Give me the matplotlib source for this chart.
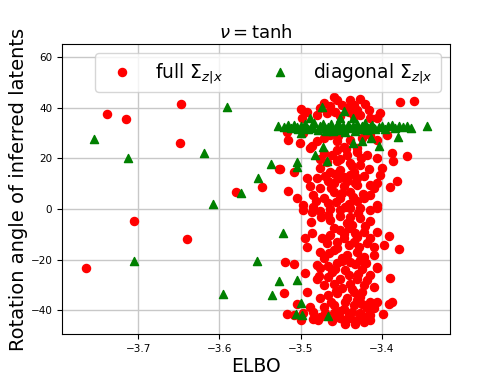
import matplotlib
matplotlib.use('Agg')
import matplotlib.pyplot as plt
import numpy as np

# full covariance runs: (ELBO, rotation angle)
full_elbo = [
    -3.7645, -3.739, -3.715, -3.648, -3.649, -3.705, -3.640, -3.580, -3.548, -3.527,
    # top of cluster
    -3.4595, -3.439, -3.4266, -3.4718, -3.4554, -3.4492, -3.4348, -3.4636, -3.4164, -3.441,
    -3.3773, -3.360, -3.4998, -3.4924, -3.4759, -3.4677, -3.4801, -3.4266, -3.4143, -3.4061,
    -3.4028, -3.4513, -3.4986, -3.4348, -3.4431, -3.4575, -3.4307, -3.4205,
    -3.517, -3.515, -3.5006, -3.4862, -3.4718, -3.4554, -3.4472, -3.439, -3.4246, -3.4143,
    -3.4061, -3.3937, -3.4636, -3.4965, -3.4801, -3.4307,
    # upper middle
    -3.4883, -3.4718, -3.4554, -3.4431, -3.4307, -3.4184, -3.4061, -3.3876, -3.3863, -3.3691,
    -3.5253, -3.508, -3.3999, -3.4164, -3.4554, -3.439, -3.4266, -3.4759, -3.4636, -3.4513,
    -3.4348, -3.4801, -3.4924, -3.4883, -3.4759, -3.4657, -3.4533, -3.4431, -3.4307, -3.4225,
    -3.4143, -3.4061, -3.402, -3.3814, -3.3905, -3.515, -3.5047, -3.4965, -3.4842, -3.4718,
    -3.4595, -3.4513, -3.439, -3.4307, -3.4225, -3.4143, -3.4102, -3.4061, -3.4842, -3.4657,
    -3.4451, -3.4307, -3.4472, -3.4595, -3.4698, -3.439,
    # lower middle
    -3.4965, -3.4862, -3.4759, -3.4636, -3.4513, -3.439, -3.4266, -3.4143, -3.4061, -3.439,
    -3.4266, -3.4143, -3.4636, -3.4431, -3.4862, -3.4944, -3.4739, -3.4636, -3.4513, -3.441,
    -3.4328, -3.4225, -3.4143, -3.4061, -3.3917, -3.4677, -3.4554, -3.4472, -3.4348, -3.4184,
    -3.4102, -3.3979, -3.3794, -3.4924, -3.4759, -3.4595, -3.4431, -3.4307, -3.4225, -3.4102,
    -3.5191, -3.5088, -3.4801, -3.4657, -3.4554, -3.439, -3.4266, -3.4061, -3.4718, -3.4492,
    # bottom
    -3.4944, -3.4759, -3.4616, -3.4451, -3.4246, -3.4061, -3.4184, -3.4143, -3.3896, -3.5203,
    -3.4801, -3.4718, -3.4595, -3.4492, -3.439, -3.4307, -3.4225, -3.4102, -3.4759, -3.4657,
    -3.4554, -3.4431, -3.4348, -3.4266, -3.4143, -3.4061, -3.3917, -3.3876, -3.5047, -3.4883,
    -3.4718, -3.4595, -3.4472, -3.4348, -3.4246, -3.517, -3.5088, -3.4965, -3.4759, -3.4595,
    -3.4513, -3.441, -3.4266, -3.4143, -3.3987, -3.4451, -3.4225, -3.4143, -3.439, -3.4554,
    -3.4842, -3.4184, -3.4102,
    # dense core
    -3.468, -3.452, -3.437, -3.458, -3.446, -3.433, -3.462, -3.449, -3.436, -3.457,
    -3.441, -3.429, -3.466, -3.452, -3.437, -3.459, -3.446, -3.431, -3.469, -3.441,
    -3.455, -3.428, -3.465, -3.449, -3.433, -3.458, -3.441, -3.429, -3.466, -3.451,
    -3.437, -3.457, -3.445, -3.431, -3.463, -3.452, -3.437, -3.428, -3.447, -3.461,
    -3.433, -3.419, -3.479, -3.470, -3.485, -3.424, -3.419, -3.421, -3.423, -3.426,
    -3.461, -3.476, -3.481, -3.487, -3.478, -3.492, -3.500, -3.475, -3.444, -3.454,
]
full_angle = [
    -23.5, 37.6, 35.6, 41.5, 26.0, -4.8, -11.9, 6.9, 8.8, 15.7,
    44.1, 43.2, 43.6, 41.8, 43.2, 41.2, 41.2, 40.9, 39.2, 38.5,
    42.5, 42.8, 39.6, 38.5, 39.9, 37.9, 37.0, 37.2, 35.9, 35.9,
    37.9, 36.6, 35.9, 36.6, 39.9, 38.5, 39.2, 41.4,
    30.4, 27.3, 26.0, 24.9, 28.0, 26.7, 24.7, 27.3, 28.0, 29.3,
    27.3, 29.3, 29.3, 30.0, 26.7, 24.0,
    24.3, 22.1, 23.4, 21.4, 22.7, 21.4, 20.1, 22.1, 18.8, 21.1,
    15.9, 14.5, 16.4, 15.9, 18.8, 18.1, 17.5, 16.2, 14.8, 15.5,
    14.8, 12.2, 12.2, 8.9, 8.2, 10.9, 12.2, 10.9, 12.2, 12.9,
    9.6, 10.2, 13.5, 10.9, 8.5, 7.2, 4.3, 1.6, 5.6, 4.3,
    6.9, 4.3, 6.9, 3.0, 4.3, 5.6, 8.2, 1.6, 0.9, 2.3,
    0.9, 9.6, 8.9, 10.2, 12.9, 13.5,
    -0.4, -1.0, -0.8, 0.0, -0.4, 0.3, 0.5, -0.4, 0.3, -3.0,
    -3.7, -4.7, -4.3, -5.7, -9.6, -11.6, -11.6, -10.3, -8.3, -7.6,
    -9.6, -9.0, -11.6, -9.0, -10.5, -13.6, -12.9, -11.6, -12.9, -13.6,
    -14.9, -14.2, -15.8, -14.9, -16.9, -16.2, -18.2, -16.9, -18.9, -18.2,
    -21.1, -21.6, -22.2, -22.4, -21.5, -20.8, -20.2, -22.8, -19.5, -19.5,
    -25.5, -23.5, -25.1, -24.2, -23.8, -23.5, -28.1, -26.2, -27.2, -33.4,
    -27.5, -30.1, -29.5, -31.4, -29.5, -27.5, -30.1, -30.8, -35.4, -34.1,
    -33.4, -35.4, -32.8, -34.7, -36.7, -36.7, -37.4, -36.7, -37.4, -38.7,
    -38.7, -38.0, -39.4, -38.0, -37.4, -41.7, -42.0, -41.3, -42.7, -41.3,
    -43.3, -42.0, -41.3, -42.0, -41.7, -45.3, -44.6, -44.0, -43.3, -42.0,
    -40.7, -39.1, -39.1,
    18.5, 19.6, 16.8, 13.8, 12.6, 10.4, 8.1, 6.2, 4.6, 2.9,
    1.8, -1.6, -2.2, -2.8, -6.4, -7.4, -9.8, -11.2, -12.0, -14.4,
    -15.6, -15.0, -17.3, -20.4, -21.9, -23.6, -26.0, -25.6, -27.0, -27.8,
    -31.8, -32.3, -36.8, -36.2, -36.6, -40.2, -40.6, -43.1, -44.0, -44.5,
    -45.5, -42.9, -44.0, -41.0, -43.5, -33.0, -21.5, -6.8, 6.0, 20.3,
    21.5, 19.8, 3.0, -5.0, -26.5, -33.0, -44.0, -3.0, 23.8, 29.0,
]

# diagonal covariance runs
diag_elbo = [
    -3.754, -3.713, -3.591, -3.619, -3.536, -3.552, -3.573, -3.608, -3.705, -3.554,
    -3.596, -3.535, -3.527, -3.522, -3.504, -3.500, -3.506, -3.498, -3.466,
    -3.474, -3.446, -3.504, -3.504, -3.482, -3.472, -3.468, -3.435, -3.424, -3.413,
    -3.403, -3.380, -3.488, -3.451, -3.435, -3.500,
    # band near 32 degrees
    -3.528, -3.521, -3.516, -3.512, -3.508, -3.503, -3.499, -3.495, -3.491, -3.487,
    -3.483, -3.479, -3.476, -3.472, -3.469, -3.466, -3.463, -3.460, -3.457, -3.454,
    -3.451, -3.448, -3.445, -3.442, -3.439, -3.436, -3.433, -3.430, -3.427, -3.424,
    -3.421, -3.418, -3.415, -3.412, -3.408, -3.404, -3.400, -3.396, -3.392, -3.388,
    -3.384, -3.379, -3.374, -3.369, -3.364, -3.344,
    -3.470, -3.462, -3.455, -3.447, -3.440, -3.432, -3.425, -3.417, -3.410, -3.485,
    -3.497, -3.505,
]
diag_angle = [
    27.6, 20.3, 40.4, 22.2, 17.8, 12.2, 6.5, 2.1, -20.5, -20.5,
    -33.7, -33.9, -28.4, -9.6, -28.1, -37.1, -41.6, -42.1, -42.4,
    40.5, 38.9, 18.7, 16.5, 21.4, 24.7, 19.1, 26.0, 26.7, 28.0,
    25.0, 28.4, 35.9, 35.9, 35.9, 30.0,
    32.9, 32.4, 33.1, 32.0, 33.3, 31.8, 32.8, 33.6, 31.5, 32.6,
    34.0, 31.2, 32.9, 33.8, 31.0, 32.3, 33.5, 30.8, 32.1, 34.2,
    31.4, 32.7, 30.6, 33.4, 31.9, 32.8, 30.9, 33.6, 31.6, 32.5,
    34.0, 31.2, 32.6, 33.3, 31.5, 32.4, 33.0, 31.8, 32.7, 33.2,
    32.0, 32.9, 32.3, 33.0, 32.1, 33.0,
    32.0, 31.8, 33.0, 31.5, 32.6, 31.9, 33.0, 32.2, 31.9, 31.9,
    32.1, 32.6,
]

fig = plt.figure(figsize=(5, 3.75), dpi=100)
ax = fig.add_axes([0.124, 0.109, 0.776, 0.774])

ax.scatter(full_elbo, full_angle, c='r', marker='o', s=34, zorder=3,
           label=r'full $\Sigma_{z|x}$')
ax.scatter(diag_elbo, diag_angle, c='g', marker='^', s=34, zorder=3,
           label=r'diagonal $\Sigma_{z|x}$')

ax.set_xlim(-3.794, -3.316)
ax.set_ylim(-49.5, 65.3)
ax.set_xticks([-3.7, -3.6, -3.5, -3.4])
ax.set_yticks([-40, -20, 0, 20, 40, 60])
ax.tick_params(labelsize=7.5)
ax.grid(True, color='#c8c8c8', linewidth=1.0, zorder=0)
ax.set_axisbelow(True)

ax.set_title(r'$\nu = \tanh$', fontsize=13, pad=4)
ax.set_xlabel('ELBO', fontsize=13.5, labelpad=2)
ax.set_ylabel('Rotation angle of inferred latents', fontsize=14, labelpad=2)
ax.legend(loc='upper right', ncol=2, fontsize=13.5, framealpha=0.8)

fig.savefig('out.png', dpi=100)
